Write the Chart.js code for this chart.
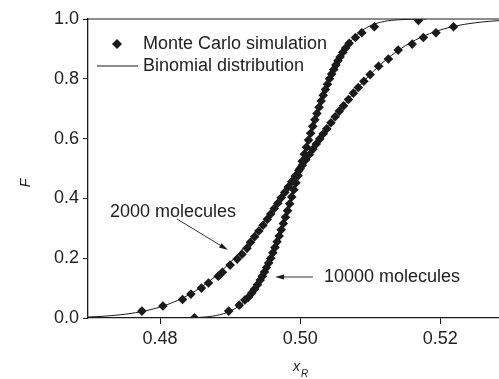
<!DOCTYPE html>
<html>
<head>
<meta charset="UTF-8"/>
<title>Cumulative distribution F vs x_R</title>
<script src="https://cdn.jsdelivr.net/npm/chart.js@4.4.1/dist/chart.umd.min.js"></script>
<style>
    html, body { margin: 0; padding: 0; background: #fff; }
    #box { width: 499px; height: 379px; }
</style>
</head>
<body>
<div id="box"><canvas id="cdf"></canvas></div>
<script>
    // x axis ticks / y axis ticks
    var xTicks = [0.48, 0.50, 0.52];
    var yTicks = [0.0, 0.2, 0.4, 0.6, 0.8, 1.0];

    // Monte Carlo simulation, 2000 molecules
    var mc2000X = [0.4774, 0.4804, 0.4832, 0.4844, 0.4859, 0.4869, 0.4883, 0.4889, 0.4900, 0.4910,
                   0.4917, 0.4924, 0.4929, 0.4935, 0.4941, 0.4947, 0.4953, 0.4958, 0.4963, 0.4968,
                   0.4973, 0.4978, 0.4983, 0.4988, 0.4993, 0.4998, 0.5003, 0.5008, 0.5013, 0.5018,
                   0.5023, 0.5028, 0.5033, 0.5038, 0.5044, 0.5050, 0.5056, 0.5062, 0.5069, 0.5076,
                   0.5083, 0.5091, 0.5100, 0.5112, 0.5126, 0.5140, 0.5160, 0.5176, 0.5194, 0.5219];
    var mc2000F = [0.023, 0.040, 0.062, 0.080, 0.100, 0.117, 0.140, 0.153, 0.177, 0.197,
                   0.213, 0.233, 0.253, 0.272, 0.291, 0.310, 0.330, 0.348, 0.366, 0.384,
                   0.402, 0.420, 0.438, 0.456, 0.475, 0.493, 0.511, 0.529, 0.546, 0.564,
                   0.582, 0.599, 0.616, 0.633, 0.653, 0.673, 0.692, 0.710, 0.731, 0.752,
                   0.771, 0.792, 0.814, 0.842, 0.866, 0.896, 0.916, 0.938, 0.954, 0.974];

    // Monte Carlo simulation, 10000 molecules
    var mc10000X = [0.4849, 0.4898, 0.4913, 0.4921, 0.4926, 0.4931, 0.4935, 0.4939, 0.4943, 0.4946,
                    0.4949, 0.4952, 0.4955, 0.4958, 0.4961, 0.4964, 0.4967, 0.4970, 0.4973, 0.4976,
                    0.4979, 0.4982, 0.4985, 0.4988, 0.4991, 0.4994, 0.4997, 0.5000, 0.5003, 0.5006,
                    0.5009, 0.5012, 0.5015, 0.5018, 0.5021, 0.5024, 0.5027, 0.5030, 0.5033, 0.5036,
                    0.5039, 0.5042, 0.5045, 0.5048, 0.5051, 0.5054, 0.5057, 0.5061, 0.5065, 0.5070,
                    0.5079, 0.5088, 0.5106, 0.5169];
    var mc10000F = [0.001, 0.023, 0.043, 0.060, 0.069, 0.084, 0.097, 0.111, 0.127, 0.140,
                    0.154, 0.169, 0.184, 0.200, 0.218, 0.236, 0.255, 0.274, 0.295, 0.316,
                    0.337, 0.359, 0.382, 0.405, 0.429, 0.452, 0.476, 0.500, 0.524, 0.548,
                    0.571, 0.595, 0.618, 0.641, 0.663, 0.684, 0.705, 0.726, 0.745, 0.764,
                    0.782, 0.800, 0.816, 0.831, 0.846, 0.860, 0.873, 0.889, 0.903, 0.919,
                    0.938, 0.954, 0.974, 0.995];

    // binomial distribution curves
    var bin2000X = [0.468, 0.470, 0.472, 0.474, 0.476, 0.478, 0.480, 0.482, 0.484, 0.486, 0.488,
                    0.490, 0.492, 0.494, 0.496, 0.498, 0.500, 0.502, 0.504, 0.506, 0.508,
                    0.510, 0.512, 0.514, 0.516, 0.518, 0.520, 0.522, 0.524, 0.526, 0.528, 0.530];
    var bin2000F = [0.0021, 0.0036, 0.0061, 0.0100, 0.0159, 0.0245, 0.0368, 0.0537, 0.0762, 0.1053, 0.1416,
                    0.1856, 0.2370, 0.2957, 0.3602, 0.4290, 0.5000, 0.5710, 0.6398, 0.7043, 0.7630,
                    0.8144, 0.8584, 0.8947, 0.9238, 0.9463, 0.9632, 0.9755, 0.9841, 0.9900, 0.9939, 0.9964];
    var bin10000X = [0.484, 0.485, 0.486, 0.487, 0.488, 0.489, 0.490, 0.491, 0.492, 0.493, 0.494,
                     0.495, 0.496, 0.497, 0.498, 0.499, 0.500, 0.501, 0.502, 0.503, 0.504,
                     0.505, 0.506, 0.507, 0.508, 0.509, 0.510, 0.511, 0.512, 0.513, 0.514, 0.516, 0.518];
    var bin10000F = [0.0007, 0.0013, 0.0026, 0.0047, 0.0082, 0.0139, 0.0228, 0.0359, 0.0548, 0.0808, 0.1151,
                     0.1587, 0.2119, 0.2743, 0.3446, 0.4207, 0.5000, 0.5793, 0.6554, 0.7257, 0.7881,
                     0.8413, 0.8849, 0.9192, 0.9452, 0.9641, 0.9772, 0.9861, 0.9918, 0.9953, 0.9974, 0.9993, 0.9999];

    function pts(xs, ys) {
        return xs.map(function (x, i) { return {x: x, y: ys[i]}; });
    }

    var ink = '#1a1a1a';
    var txt = '#222';
    var fontFam = '"Liberation Sans", Arial, sans-serif';

    function arrow(ctx, x1, y1, x2, y2) {
        var a = Math.atan2(y2 - y1, x2 - x1);
        ctx.beginPath();
        ctx.moveTo(x1, y1);
        ctx.lineTo(x2 - 6 * Math.cos(a), y2 - 6 * Math.sin(a));
        ctx.stroke();
        ctx.beginPath();
        ctx.moveTo(x2, y2);
        ctx.lineTo(x2 - 9 * Math.cos(a) + 2.5 * Math.sin(a), y2 - 9 * Math.sin(a) - 2.5 * Math.cos(a));
        ctx.lineTo(x2 - 9 * Math.cos(a) - 2.5 * Math.sin(a), y2 - 9 * Math.sin(a) + 2.5 * Math.cos(a));
        ctx.closePath();
        ctx.fill();
    }

    var extras = {
        id: 'extras',
        afterDraw: function (chart) {
            var ctx = chart.ctx;
            var a = chart.chartArea;
            ctx.save();
            ctx.strokeStyle = ink;
            ctx.fillStyle = ink;
            // top frame line
            ctx.lineWidth = 1.2;
            ctx.beginPath();
            ctx.moveTo(a.left, a.top);
            ctx.lineTo(a.right, a.top);
            ctx.stroke();

            // legend
            ctx.beginPath();
            ctx.moveTo(117, 39); ctx.lineTo(122, 44); ctx.lineTo(117, 49); ctx.lineTo(112, 44);
            ctx.closePath();
            ctx.fill();
            ctx.lineWidth = 1;
            ctx.beginPath();
            ctx.moveTo(97, 66); ctx.lineTo(138, 66);
            ctx.stroke();
            ctx.fillStyle = txt;
            ctx.font = '18px ' + fontFam;
            ctx.textBaseline = 'middle';
            ctx.textAlign = 'left';
            ctx.fillText('Monte Carlo simulation', 143, 44);
            ctx.fillText('Binomial distribution', 143, 66);

            // annotations
            ctx.fillText('2000 molecules', 110, 212);
            ctx.fillText('10000 molecules', 324, 277);
            ctx.fillStyle = ink;
            ctx.lineWidth = 0.9;
            arrow(ctx, 177, 219, 228, 250);
            arrow(ctx, 313, 277, 275, 277);

            // axis titles
            ctx.fillStyle = txt;
            ctx.font = 'italic 14px ' + fontFam;
            ctx.save();
            ctx.translate(26, 183);
            ctx.rotate(-Math.PI / 2);
            ctx.textAlign = 'center';
            ctx.fillText('F', 0, 0);
            ctx.restore();
            ctx.textAlign = 'left';
            ctx.fillText('x', 293, 367);
            ctx.font = 'italic 10px ' + fontFam;
            ctx.fillText('R', 301, 374);
            ctx.restore();
        }
    };

    var ctx = document.getElementById('cdf').getContext('2d');
    var chart = new Chart(ctx, {
        type: 'scatter',
        data: {
            datasets: [
                {
                    label: 'Monte Carlo simulation (2000)',
                    data: pts(mc2000X, mc2000F),
                    pointStyle: 'rectRot',
                    pointRadius: 4.8,
                    backgroundColor: ink,
                    borderColor: ink,
                    borderWidth: 0
                },
                {
                    label: 'Monte Carlo simulation (10000)',
                    data: pts(mc10000X, mc10000F),
                    pointStyle: 'rectRot',
                    pointRadius: 4.8,
                    backgroundColor: ink,
                    borderColor: ink,
                    borderWidth: 0
                },
                {
                    label: 'Binomial distribution (2000)',
                    data: pts(bin2000X, bin2000F),
                    showLine: true,
                    pointRadius: 0,
                    borderColor: ink,
                    borderWidth: 1,
                    tension: 0.3
                },
                {
                    label: 'Binomial distribution (10000)',
                    data: pts(bin10000X, bin10000F),
                    showLine: true,
                    pointRadius: 0,
                    borderColor: ink,
                    borderWidth: 1,
                    tension: 0.3
                }
            ]
        },
        options: {
            responsive: true,
            maintainAspectRatio: false,
            animation: false,
            // no automatic room for points, plot runs to the right edge
            layout: { autoPadding: false, padding: { top: 19, right: 0, left: 0, bottom: 0 } },
            plugins: { legend: { display: false }, tooltip: { enabled: false } },
            scales: {
                x: {
                    type: 'linear',
                    min: 0.4697,
                    max: 0.5284,
                    afterBuildTicks: function (s) { s.ticks = xTicks.map(function (v) { return {value: v}; }); },
                    afterFit: function (s) { s.height = 61; },
                    grid: { drawOnChartArea: false, drawTicks: true, tickLength: 6, color: ink, lineWidth: 1 },
                    border: { display: true, color: ink, width: 1.3 },
                    ticks: {
                        color: txt,
                        font: { size: 18, family: fontFam },
                        padding: 4,
                        callback: function (v) { return v.toFixed(2); }
                    }
                },
                y: {
                    min: 0,
                    max: 1,
                    afterBuildTicks: function (s) { s.ticks = yTicks.map(function (v) { return {value: v}; }); },
                    afterFit: function (s) { s.width = 88; },
                    grid: { drawOnChartArea: false, drawTicks: true, tickLength: 5, color: ink, lineWidth: 1 },
                    border: { display: true, color: ink, width: 1.3 },
                    ticks: {
                        color: txt,
                        font: { size: 18, family: fontFam },
                        padding: 4,
                        callback: function (v) { return v.toFixed(1); }
                    }
                }
            }
        },
        plugins: [extras]
    });
</script>
</body>
</html>
